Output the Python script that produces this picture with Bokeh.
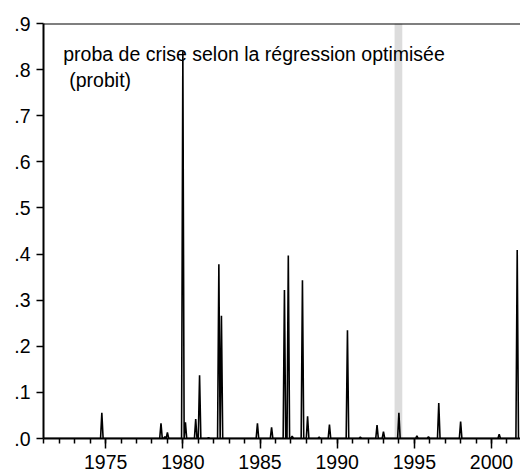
import numpy as np
from bokeh.plotting import figure
from bokeh.models import Range1d, FixedTicker, BoxAnnotation, Label, Span
from bokeh.embed import file_html
from bokeh.resources import INLINE

# ---- data -------------------------------------------------------------
start_year = 1971
end_year, end_month = 2001, 10          # last monthly observation

# months (YYYY, MM) where the probability is visibly above zero, and values
spike_months = [
    (1974, 10), (1978, 8), (1978, 11), (1979, 1), (1980, 1), (1980, 3),
    (1980, 11), (1981, 2), (1981, 9), (1982, 5), (1982, 7), (1984, 11),
    (1985, 10), (1986, 8), (1986, 11), (1987, 2), (1987, 10), (1988, 2),
    (1988, 11), (1989, 7), (1990, 9), (1991, 7), (1992, 8), (1993, 1),
    (1994, 1), (1995, 3), (1995, 12), (1996, 8), (1998, 1), (2000, 7),
    (2001, 9),
]
spike_values = [
    0.056, 0.033, 0.004, 0.013, 0.840, 0.035,
    0.042, 0.137, 0.002, 0.378, 0.266, 0.033,
    0.024, 0.322, 0.397, 0.005, 0.343, 0.048,
    0.003, 0.030, 0.235, 0.003, 0.029, 0.015,
    0.056, 0.006, 0.004, 0.077, 0.037, 0.009,
    0.409,
]

# crisis shading (decimal years)
shade_start = 1993.72
shade_end = 1994.22

y_ticks = [0.0, 0.1, 0.2, 0.3, 0.4, 0.5, 0.6, 0.7, 0.8, 0.9]
y_tick_labels = [".0", ".1", ".2", ".3", ".4", ".5", ".6", ".7", ".8", ".9"]
x_major_ticks = [1975, 1980, 1985, 1990, 1995, 2000]
x_minor_ticks = list(range(1971, 2002))

title_line1 = "proba de crise selon la régression optimisée"
title_line2 = "(probit)"

# ---- build the monthly series ----------------------------------------
n_obs = (end_year - start_year) * 12 + end_month
months_x = start_year + np.arange(n_obs) / 12.0
prob = np.zeros(n_obs)
for (yy, mm), v in zip(spike_months, spike_values):
    prob[(yy - start_year) * 12 + (mm - 1)] = v

FONT = "Liberation Sans"
FS = "19.5px"

p = figure(width=520, height=475, output_backend="svg", toolbar_location=None,
           x_range=Range1d(1970.97, 2001.88), y_range=Range1d(0, 0.9),
           min_border_left=43, min_border_right=0, min_border_top=23,
           min_border_bottom=37)
p.grid.visible = False
p.outline_line_color = None
p.background_fill_color = "white"
p.border_fill_color = "white"

p.add_layout(BoxAnnotation(left=shade_start, right=shade_end,
                           fill_color="#dcdcdc", fill_alpha=1.0,
                           line_color=None, level="underlay"))

p.line(months_x, prob, line_color="black", line_width=1.6)

p.add_layout(Span(location=0.9, dimension="width", line_color="black",
                  line_width=2))

# y axis
ya = p.yaxis[0]
ya.ticker = FixedTicker(ticks=y_ticks)
ya.major_label_overrides = dict(zip(y_ticks, y_tick_labels))
ya.major_tick_out = 7
ya.major_tick_in = 0
ya.minor_tick_out = 0
ya.minor_tick_in = 0
ya.axis_line_width = 2
ya.major_tick_line_width = 1.5
ya.major_label_standoff = 6
ya.major_label_text_font = FONT
ya.major_label_text_font_size = FS
ya.major_label_text_color = "black"

# x axis
xa = p.xaxis[0]
xa.ticker = FixedTicker(ticks=x_major_ticks, minor_ticks=x_minor_ticks)
xa.major_tick_out = 10
xa.major_tick_in = 0
xa.minor_tick_out = 5
xa.minor_tick_in = 0
xa.axis_line_width = 2
xa.major_tick_line_width = 1.5
xa.minor_tick_line_width = 1.5
xa.major_label_standoff = 6
xa.major_label_text_font = FONT
xa.major_label_text_font_size = FS
xa.major_label_text_color = "black"

p.add_layout(Label(x=1972.25, y=0.833, text=title_line1, text_font=FONT,
                   text_font_size=FS, text_baseline="alphabetic",
                   text_color="black"))
p.add_layout(Label(x=1972.64, y=0.777, text=title_line2, text_font=FONT,
                   text_font_size=FS, text_baseline="alphabetic",
                   text_color="black"))

open("out.html", "w").write(file_html(p, INLINE))
